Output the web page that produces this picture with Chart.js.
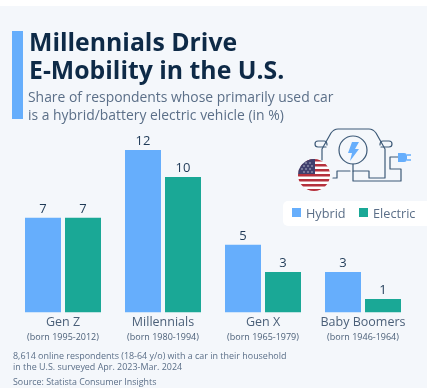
<!DOCTYPE html>
<html>
<head>
<meta charset="utf-8">
<script src="https://cdn.jsdelivr.net/npm/chart.js@4"></script>
<style>
html, body { margin: 0; padding: 0; background: #fff; }
#page { position: relative; width: 427px; height: 388px; overflow: hidden; font-family: "Open Sans", sans-serif; }
#bg { position: absolute; left: 0; top: 6px; width: 427px; height: 382px; background: #f4f7fb; }
#wrap { position: absolute; left: 0; top: 0; width: 427px; height: 388px; }
.t { position: absolute; white-space: nowrap; }
#accent { position: absolute; left: 12px; top: 31px; width: 11px; height: 88px; background: #66aefc; }
#title { left: 29px; top: 27px; font-size: 24.8px; line-height: 28px; font-weight: 700; color: #0e2a47; }
#sub { left: 28px; top: 88px; font-size: 13.9px; line-height: 17.5px; color: #5b6f88; }
#notes { left: 13px; top: 351px; font-size: 8.95px; line-height: 10.8px; color: #5b6f88; }
#src { left: 13px; top: 376px; font-size: 8.9px; line-height: 11px; color: #5b6f88; }
#legend { position: absolute; left: 283px; top: 201px; width: 160px; height: 25px; background: #fff; border-radius: 5px; }
.sw { position: absolute; top: 7px; width: 9px; height: 9px; }
.lb { position: absolute; top: 3px; font-size: 12.7px; line-height: 18px; color: #5b6f88; }
#icon { position: absolute; left: 0; top: 0; }
</style>
</head>
<body>
<div id="page">
  <div id="bg"></div>
  <div id="wrap"><canvas id="myChart" width="427" height="388"></canvas></div>
  <div id="accent"></div>
  <div class="t" id="title">Millennials Drive<br>E-Mobility in the U.S.</div>
  <div class="t" id="sub">Share of respondents whose primarily used car<br>is a hybrid/battery electric vehicle (in %)</div>
  <svg id="icon" width="427" height="388" viewBox="0 0 427 388">
    <g fill="none" stroke="#3d5a78" stroke-width="1.2" stroke-linejoin="round" stroke-linecap="round">
      <path d="M322 160V149L331 133Q334 129 338 129H369Q373 129 376 133L385 149V178H369V171H353M353 171V181H401V169H390V157H398"/>
      <path d="M333 178H337V171H350"/>
      <path d="M326 147H318Q315 147 315 144Q315 141 318 141H324Q327 141 327 145"/>
      <path d="M381 147H389Q392 147 392 144Q392 141 389 141H383Q380 141 380 145"/>
      <circle cx="353" cy="150" r="14"/>
      <path d="M353 164V171"/>
    </g>
    <path d="M359 142H352L348 153H352L350 161L359 149H355Z" fill="#66aefc"/>
    <path d="M398 153H404Q407 153 407 156V159Q407 162 404 162H398Z" fill="#66aefc"/>
    <path d="M407 155H411M407 160H411" stroke="#66aefc" stroke-width="1.6"/>
    <clipPath id="flagClip"><circle cx="314" cy="175" r="16"/></clipPath>
    <g clip-path="url(#flagClip)">
      <rect x="298" y="159" width="32" height="32" fill="#fff"/>
      <g fill="#b5313d">
        <rect x="298" y="159" width="32" height="2.5"/>
        <rect x="298" y="164" width="32" height="2.5"/>
        <rect x="298" y="169" width="32" height="2.5"/>
        <rect x="298" y="174" width="32" height="2.5"/>
        <rect x="298" y="179" width="32" height="2.5"/>
        <rect x="298" y="184" width="32" height="2.5"/>
        <rect x="298" y="189" width="32" height="2.5"/>
      </g>
      <rect x="298" y="159" width="17" height="15" fill="#41406e"/>
      <g fill="#d8d8e6">
        <circle cx="302" cy="163" r=".7"/><circle cx="306" cy="163" r=".7"/><circle cx="310" cy="163" r=".7"/>
        <circle cx="304" cy="166" r=".7"/><circle cx="308" cy="166" r=".7"/><circle cx="312" cy="166" r=".7"/>
        <circle cx="302" cy="169" r=".7"/><circle cx="306" cy="169" r=".7"/><circle cx="310" cy="169" r=".7"/>
        <circle cx="304" cy="172" r=".7"/><circle cx="308" cy="172" r=".7"/><circle cx="312" cy="172" r=".7"/>
      </g>
    </g>
  </svg>
  <div id="legend">
    <div class="sw" style="left:9px;background:#66aefc"></div><div class="lb" style="left:23px">Hybrid</div>
    <div class="sw" style="left:76px;background:#1aa896"></div><div class="lb" style="left:90px">Electric</div>
  </div>
  <div class="t" id="notes">8,614 online respondents (18-64 y/o) with a car in their household<br>in the U.S. surveyed Apr. 2023-Mar. 2024</div>
  <div class="t" id="src">Source: Statista Consumer Insights</div>
</div>
<script>
const categories = ["Gen Z", "Millennials", "Gen X", "Baby Boomers"];
const born = ["(born 1995-2012)", "(born 1980-1994)", "(born 1965-1979)", "(born 1946-1964)"];
const hybrid = [7, 12, 5, 3];
const electric = [7, 10, 3, 1];

// value labels above the bars
const barValues = {
	id: "barValues",
	afterDatasetsDraw(chart) {
		const ctx = chart.ctx;
		ctx.save();
		ctx.font = '13px "Open Sans"';
		ctx.fillStyle = "#1f3a57";
		ctx.textAlign = "center";
		ctx.textBaseline = "bottom";
		chart.data.datasets.forEach((ds, i) => {
			chart.getDatasetMeta(i).data.forEach((bar, j) => {
				ctx.fillText(ds.data[j], bar.x, bar.y - 2);
			});
		});
		ctx.restore();
	}
};

new Chart(document.getElementById("myChart").getContext("2d"), {
	type: "bar",
	data: {
		labels: categories,
		datasets: [
			{ label: "Hybrid", data: hybrid, backgroundColor: "#66aefc" },
			{ label: "Electric", data: electric, backgroundColor: "#1aa896" }
		]
	},
	options: {
		responsive: false,
		animation: false,
		layout: { padding: { left: 13, right: 14, top: 150, bottom: 46 } },
		categoryPercentage: 0.8,
		barPercentage: 0.9,
		plugins: { legend: { display: false }, tooltip: { enabled: false } },
		scales: {
			y: { display: false, min: 0, max: 12 },
			x: {
				position: "bottom",
				grid: { display: false, drawTicks: false },
				border: { display: false },
				ticks: { color: "#4a5f78", font: { family: "Open Sans", size: 12.5, lineHeight: 1 }, padding: 4, maxRotation: 0, autoSkip: false }
			},
			x2: {
				type: "category",
				axis: "x",
				position: "bottom",
				labels: born,
				grid: { display: false, drawTicks: false },
				border: { display: false },
				ticks: { color: "#4a5f78", font: { family: "Open Sans", size: 9, lineHeight: 1 }, padding: 0, maxRotation: 0, autoSkip: false }
			}
		}
	},
	plugins: [barValues]
});
</script>
</body>
</html>
